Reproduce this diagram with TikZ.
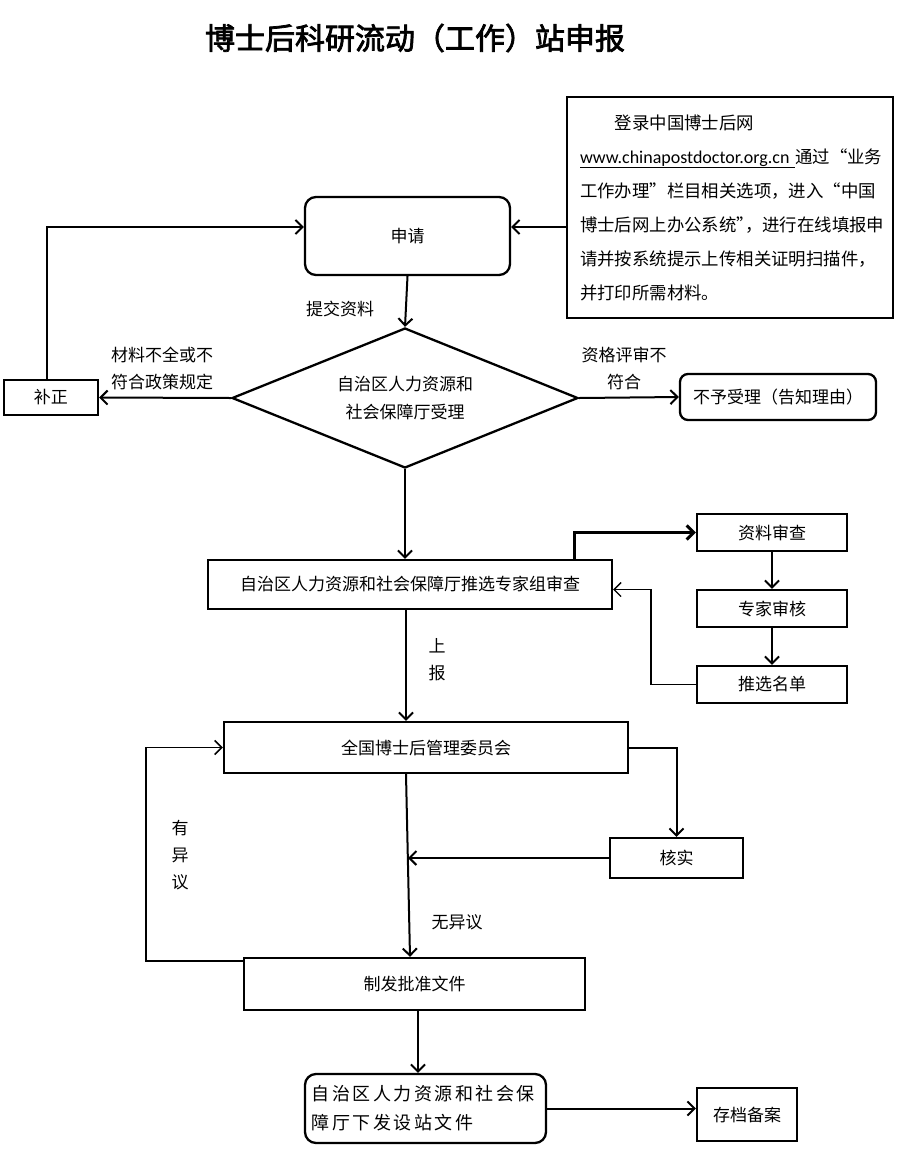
\documentclass[tikz,border=0pt]{standalone}
\usepackage{fontspec}
\setmainfont{Noto Sans CJK SC}
\newfontfamily\titlefont[FakeBold=2.5]{Noto Sans CJK SC}
\newfontfamily\spacedfont[LetterSpace=14]{Noto Sans CJK SC}
\newfontfamily\urlfont{Carlito}
\usetikzlibrary{arrows.meta,shapes.geometric,calc}
\begin{document}
\begin{tikzpicture}[x=1pt,y=-1pt,
  box/.style={draw,line width=2.3pt,inner sep=0pt,font=\fontsize{17}{20}\selectfont},
  rbox/.style={box,rounded corners=11pt},
  arr/.style={line width=2pt,-{Straight Barb[length=7pt,width=14pt]}},
  thinarr/.style={line width=1.3pt,-{Straight Barb[length=7pt,width=14pt]}},
  lab/.style={font=\fontsize{17}{27}\selectfont,align=center,inner sep=0pt},
]
\useasboundingbox (0,0) rectangle (900,1160);
\fill[white] (0,0) rectangle (900,1160);

% title
\node[inner sep=0pt,font=\titlefont\fontsize{30}{34}\selectfont] (title) at (415,38) {博士后科研流动（工作）站申报};

% nodes
\node[box,minimum width=326pt,minimum height=221pt,text width=300pt,align=left,
      font=\fontsize{17.4}{34}\selectfont] (info) at (730,207.5)
  {\hspace*{2em}登录中国博士后网\\
   {\urlfont\fontsize{18}{34}\selectfont\underline{www.chinapostdoctor.org.cn }}通过“业务\\
   工作办理”栏目相关选项，进入“中国\\
   博士后网上办公系统”\kern-9pt，进行在线填报申\\
   请并按系统提示上传相关证明扫描件，\\
   并打印所需材料。};
\node[rbox,minimum width=205pt,minimum height=78pt] (apply) at (407.5,236) {申请};
\node[draw,line width=2.3pt,shape=diamond,aspect=2.47,inner sep=0pt,
      minimum width=346pt,minimum height=140pt,align=center,
      font=\fontsize{17}{28}\selectfont] (dia) at (405,398)
  {自治区人力资源和\\社会保障厅受理};
\node[box,minimum width=94pt,minimum height=35pt] (fix) at (51,397.5) {补正};
\node[rbox,rounded corners=8pt,minimum width=196pt,minimum height=46pt] (reject) at (778,397) {不予受理（告知理由）};
\node[box,minimum width=404pt,minimum height=49pt] (expert) at (410,584.5) {自治区人力资源和社会保障厅推选专家组审查};
\node[box,minimum width=150pt,minimum height=37pt] (zl) at (772,532.5) {资料审查};
\node[box,minimum width=150pt,minimum height=37pt] (zj) at (772,608.5) {专家审核};
\node[box,minimum width=150pt,minimum height=37pt] (tx) at (772,684.5) {推选名单};
\node[box,minimum width=404pt,minimum height=51pt] (nat) at (426,747.5) {全国博士后管理委员会};
\node[box,minimum width=133pt,minimum height=40pt] (hs) at (676.5,858) {核实};
\node[box,minimum width=341pt,minimum height=52pt] (zf) at (414.5,984) {制发批准文件};
\node[rbox,minimum width=241pt,minimum height=69pt,text width=228pt,align=left,
      font=\spacedfont\fontsize{18}{29}\selectfont] (final) at (425.5,1108.5)
  {自治区人力资源和社会保\\障厅下发设站文件};
\node[box,minimum width=100pt,minimum height=53pt] (arch) at (747,1114.5) {存档备案};

% labels
\node[lab] (l1) at (340,309) {提交资料};
\node[lab] (l2) at (162,368) {材料不全或不\\符合政策规定};
\node[lab] (l3) at (624,368) {资格评审不\\符合};
\node[lab] (l4) at (437,660) {上\\报};
\node[lab] (l5) at (180,855) {有\\异\\议};
\node[lab] (l6) at (457,922) {无异议};

% connectors
\draw[arr] ($(info.west)+(0,19.5)$) -- ($(apply.east)+(0,-9)$);
\draw[arr] (apply.south) -- (dia.north);
\draw[arr] (dia.west) -- (fix.east);
\draw[arr] ($(fix.north)+(-4,0)$) |- ($(apply.west)+(0,-9)$);
\draw[arr] (dia.east) -- (reject.west);
\draw[arr] (dia.south) -- (dia.south |- expert.north);
\draw[arr,line width=3pt] ($(expert.north east)+(-39,0)$) |- (zl.west);
\draw[arr] (zl.south) -- (zj.north);
\draw[arr] (zj.south) -- (tx.north);
\draw[thinarr] (tx.west) -- ++(-45,0) |- ($(expert.east)+(0,5)$);
\draw[arr] ($(expert.south)+(-4,0)$) -- ($(nat.north)+(-20,0)$);
\draw[arr] (nat.east) -| (hs.north);
\coordinate (mid) at (408,858);
\draw[arr] ($(nat.south)+(-20,0)$) -- ($(zf.north)+(-4.5,0)$);
\draw[arr] (hs.west) -- (mid);
\draw[thinarr,line width=1.6pt] ($(zf.north west)+(0,4)$) -- ++(-97,0) |- (nat.west);
\draw[arr] ($(zf.south)+(3.5,0)$) -- ($(final.north)+(-7.5,0)$);
\draw[arr] (final.east) -- (final.east -| arch.west);
\end{tikzpicture}
\end{document}
